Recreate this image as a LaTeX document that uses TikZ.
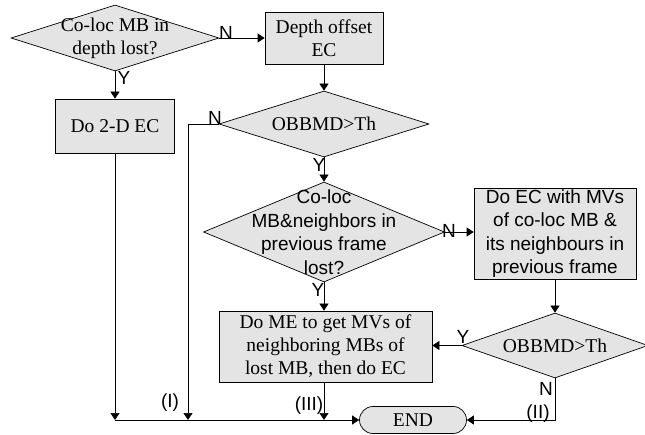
\documentclass[tikz,border=0pt]{standalone}
\usepackage{fontspec}
\setmainfont{Liberation Serif}
\setsansfont{Liberation Sans}
\usetikzlibrary{shapes.geometric,shapes.misc,arrows.meta}
\definecolor{boxgray}{HTML}{E4E4E4}
\begin{document}
\begin{tikzpicture}[x=1pt,y=-1pt,
  base/.style={draw=black, fill=boxgray, line width=0.7pt},
  dec/.style={base, diamond, inner sep=0pt},
  proc/.style={base, rectangle, inner sep=0pt},
  txt/.style={align=center, inner sep=0pt, font=\fontsize{19.5}{23}\selectfont},
  stxt/.style={txt, font=\sffamily\fontsize{19}{23.5}\selectfont},
  lab/.style={inner sep=0pt, font=\sffamily\fontsize{19}{22}\selectfont},
  arr/.style={-{Triangle[length=7pt,width=9pt]}, line width=0.7pt},
  ln/.style={line width=0.7pt}]
\useasboundingbox (0,0) rectangle (645,435);

% shapes
\node[dec, minimum width=208pt, minimum height=66pt] (d1) at (115,38) {};
\node[txt] (d1t) at (d1.center) {Co-loc MB in\\depth lost?};

\node[proc, minimum width=118pt, minimum height=52pt] (depth) at (324,38) {};
\node[txt] (deptht) at (depth.center) {Depth offset\\EC};

\node[proc, minimum width=119pt, minimum height=54pt] (do2d) at (115,126) {};
\node[txt] (do2dt) at (do2d.center) {Do 2-D EC};

\node[dec, minimum width=210pt, minimum height=66pt] (ob1) at (324,124) {};
\node[txt] (ob1t) at (ob1.center) {OBBMD>Th};

\node[dec, minimum width=241pt, minimum height=100pt] (coloc) at (324,232) {};
\node[stxt] (coloct) at (coloc.center) {Co-loc\\MB\&neighbors in\\previous frame\\lost?};

\node[proc, minimum width=162pt, minimum height=91pt] (doec) at (555,233.5) {};
\node[stxt] (doect) at (doec.center) {Do EC with MVs\\of co-loc MB \&\\its neighbours in\\previous frame};

\node[dec, minimum width=186pt, minimum height=65pt] (ob2) at (555,345.5) {};
\node[txt] (ob2t) at (ob2.center) {OBBMD>Th};

\node[proc, minimum width=213pt, minimum height=71pt] (dome) at (325.5,346.5) {};
\node[txt] (domet) at (dome.center) {Do ME to get MVs of\\neighboring MBs of\\lost MB, then do EC};

\node[base, rounded rectangle, minimum width=107pt, minimum height=27pt, inner sep=0pt] (endn) at (413,420) {};
\node[txt] (endt) at (endn.center) {END};

% junction points
\coordinate (nI) at (188,124);

% connectors
\draw[arr] (d1.east) -- (depth.west);
\draw[arr] (d1.south) -- (do2d.north);
\draw[arr] (depth.south) -- (ob1.north);
\draw[arr] (ob1.south) -- (coloc.north);
\draw[arr] (coloc.east) -- (coloc.east -| doec.west);
\draw[arr] (coloc.south) -- (coloc.south |- dome.north);
\draw[arr] (doec.south) -- (ob2.north);
\draw[arr] (ob2.west) -- (ob2.west -| dome.east);
\draw[ln] (ob1.west) -- (nI);
\draw[arr] (nI) -- (nI |- endn.west);
\draw[arr] (do2d.south) -- (do2d.south |- endn.west);
\draw[arr] (coloc.south |- dome.south) -- (coloc.south |- endn.west);
\draw[arr] (do2d.south |- endn.west) -- (endn.west);
\draw[arr] (ob2.south) |- (endn.east);

% labels
\node[lab] (l1) at (226,33) {N};
\node[lab] (l2) at (124,78) {Y};
\node[lab] (l3) at (215,118) {N};
\node[lab] (l4) at (319,165) {Y};
\node[lab] (l5) at (449,231) {N};
\node[lab] (l6) at (318,290) {Y};
\node[lab] (l7) at (463,337) {Y};
\node[lab] (l8) at (546,389) {N};
\node[lab] (l9) at (538,414) {(II)};
\node[lab] (l10) at (170,403) {(I)};
\node[lab] (l11) at (309,406) {(III)};
\end{tikzpicture}
\end{document}
